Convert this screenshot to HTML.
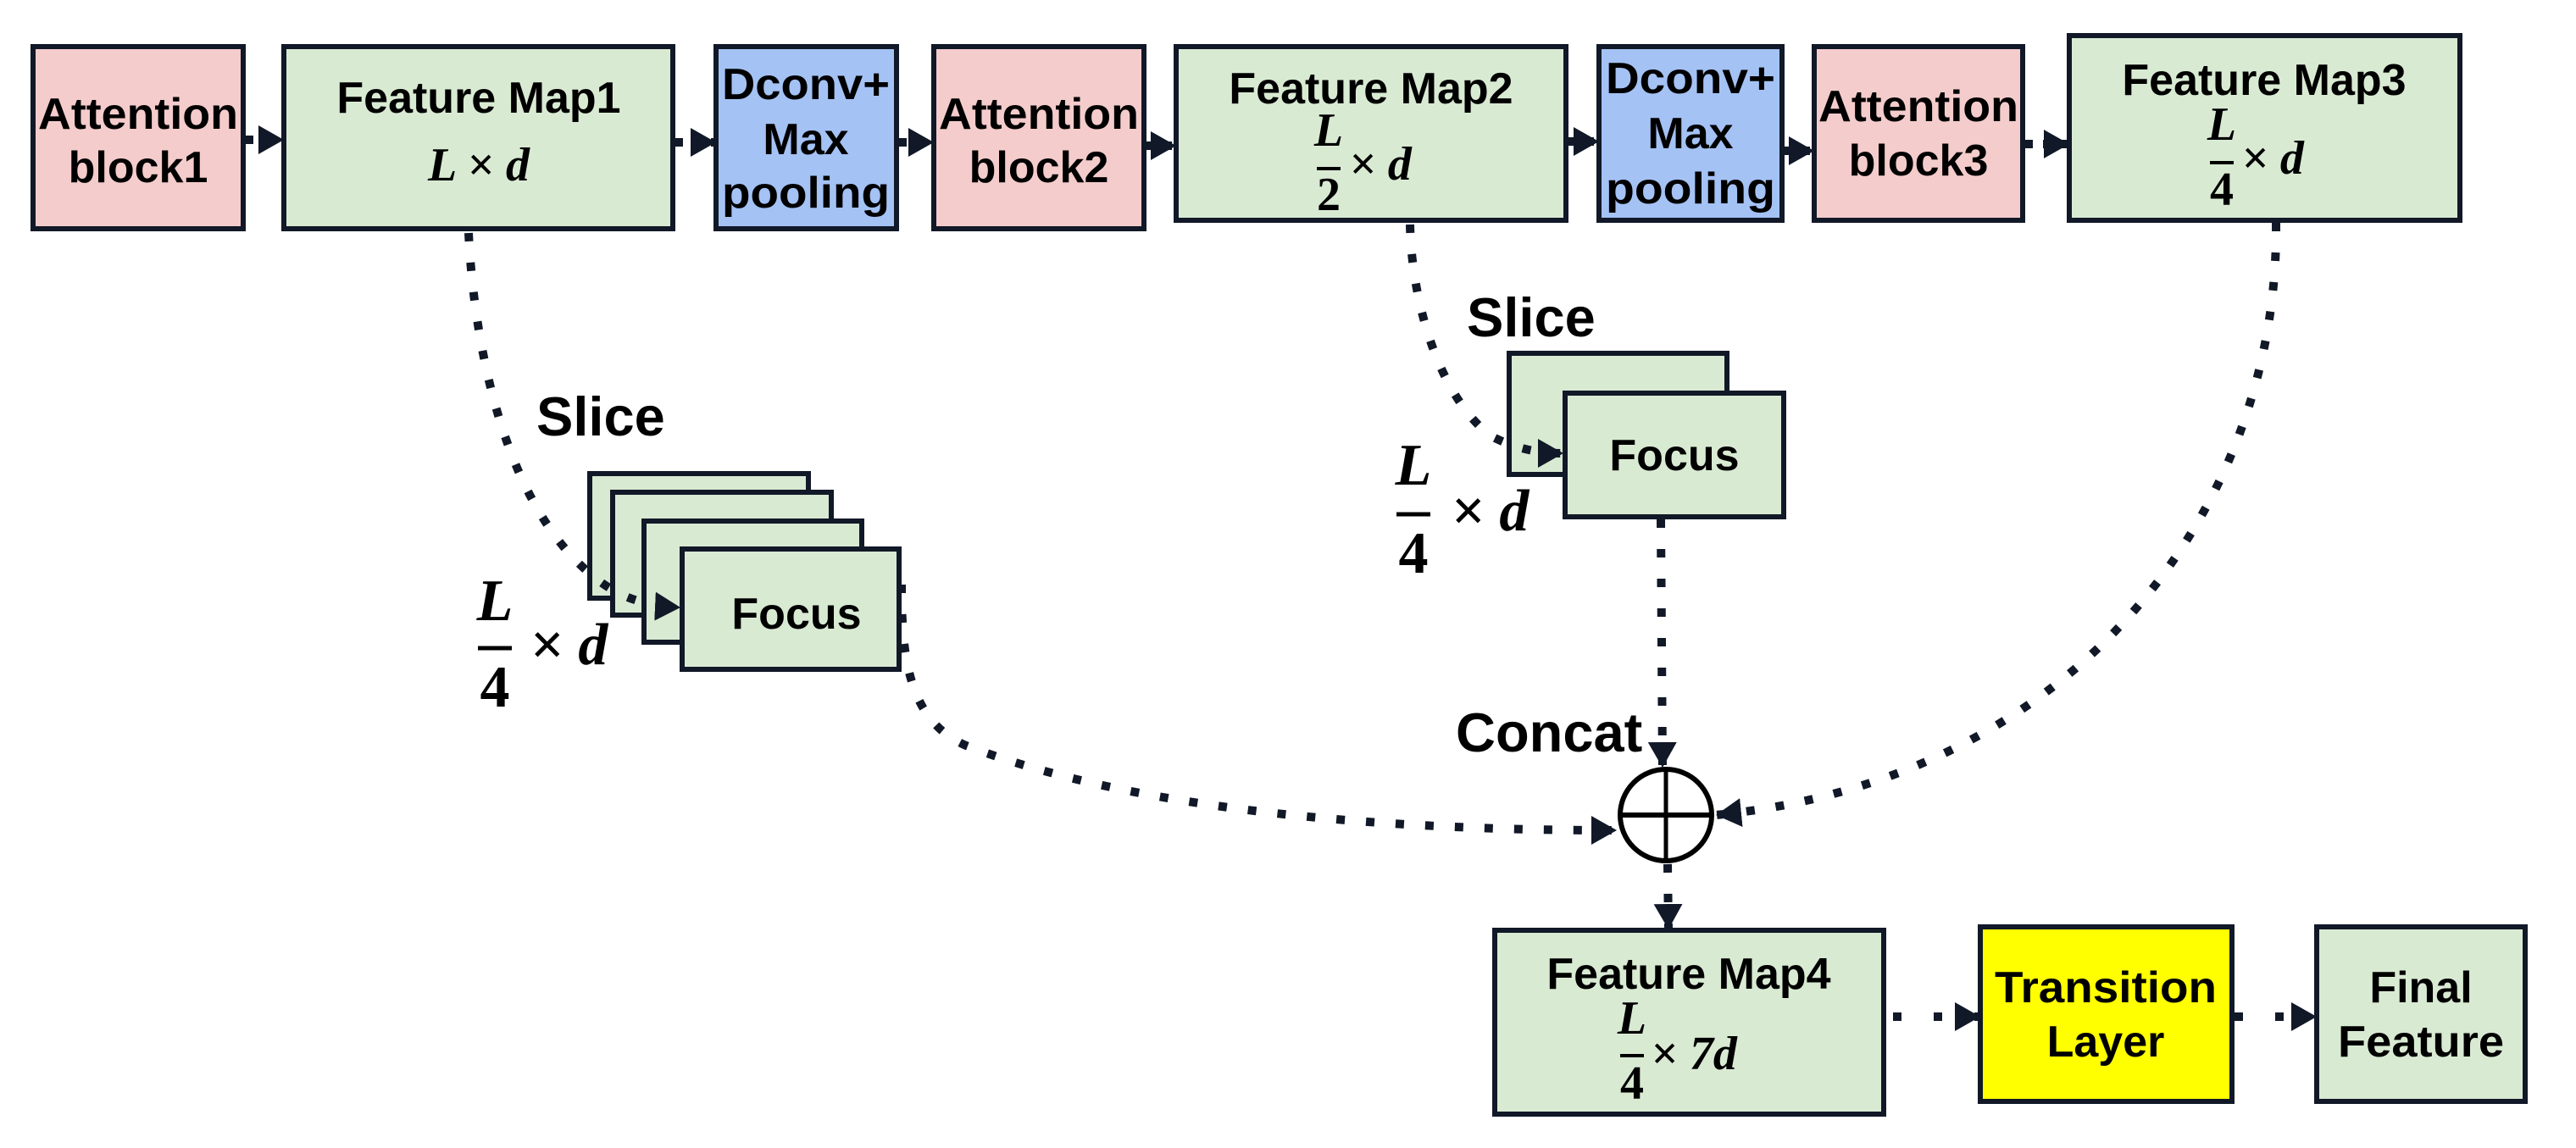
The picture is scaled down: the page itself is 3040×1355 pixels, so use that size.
<!DOCTYPE html>
<html><head><meta charset="utf-8"><style>
html,body{margin:0;padding:0;background:#fff;}
svg{display:block;}
.b{font-family:"Liberation Sans",sans-serif;font-weight:bold;font-size:52px;fill:#000;text-anchor:middle;}
.m{font-family:"Liberation Serif",serif;font-style:italic;font-weight:bold;font-size:56px;fill:#000;}
.mb{font-family:"Liberation Serif",serif;font-style:italic;font-weight:bold;font-size:70px;fill:#000;}
.lab{font-family:"Liberation Sans",sans-serif;font-weight:bold;font-size:65px;fill:#000;}
.box{stroke:#111827;stroke-width:6;}
.dl{fill:none;stroke:#111827;stroke-width:10;stroke-dasharray:10 25;}
</style></head><body>
<svg width="3040" height="1355" viewBox="0 0 3040 1355" xmlns="http://www.w3.org/2000/svg">
<defs>
<marker id="a" markerUnits="userSpaceOnUse" markerWidth="34" markerHeight="34" refX="30" refY="17" orient="auto">
<path d="M0,0 L30,17 L0,34 z" fill="#111827"/>
</marker>
</defs>

<rect class="box" x="39" y="55" width="248" height="215" fill="#f4cccc"/>
<rect class="box" x="335" y="55" width="459" height="215" fill="#d9ead3"/>
<rect class="box" x="845" y="55" width="213" height="215" fill="#a4c2f4"/>
<rect class="box" x="1102" y="55" width="248" height="215" fill="#f4cccc"/>
<rect class="box" x="1388" y="55" width="460" height="205" fill="#d9ead3"/>
<rect class="box" x="1887" y="55" width="216" height="205" fill="#a4c2f4"/>
<rect class="box" x="2141" y="55" width="246" height="205" fill="#f4cccc"/>
<rect class="box" x="2442" y="42" width="461" height="218" fill="#d9ead3"/>

<text class="b" x="163" y="152" textLength="236" lengthAdjust="spacingAndGlyphs">Attention</text>
<text class="b" x="163" y="215">block1</text>
<text class="b" x="565" y="133">Feature Map1</text>
<text class="m" x="565" y="213" text-anchor="middle">L × d</text>
<text class="b" x="951" y="117" textLength="198" lengthAdjust="spacingAndGlyphs">Dconv+</text>
<text class="b" x="951" y="182">Max</text>
<text class="b" x="951" y="245" textLength="198" lengthAdjust="spacingAndGlyphs">pooling</text>
<text class="b" x="1226" y="152" textLength="236" lengthAdjust="spacingAndGlyphs">Attention</text>
<text class="b" x="1226" y="215">block2</text>

<text class="b" x="1618" y="122">Feature Map2</text>
<text class="m" x="1568" y="172" text-anchor="middle">L</text>
<line x1="1554" y1="199" x2="1582" y2="199" stroke="#000" stroke-width="4"/>
<text class="m" x="1568" y="248" text-anchor="middle" style="font-style:normal">2</text>
<text class="m" x="1592" y="212">× d</text>

<text class="b" x="1995" y="110" textLength="200" lengthAdjust="spacingAndGlyphs">Dconv+</text>
<text class="b" x="1995" y="175">Max</text>
<text class="b" x="1995" y="240" textLength="200" lengthAdjust="spacingAndGlyphs">pooling</text>
<text class="b" x="2264" y="143" textLength="236" lengthAdjust="spacingAndGlyphs">Attention</text>
<text class="b" x="2264" y="207">block3</text>

<text class="b" x="2672" y="112">Feature Map3</text>
<text class="m" x="2622" y="165" text-anchor="middle">L</text>
<line x1="2608" y1="192" x2="2636" y2="192" stroke="#000" stroke-width="4"/>
<text class="m" x="2622" y="242" text-anchor="middle" style="font-style:normal">4</text>
<text class="m" x="2645" y="205">× d</text>

<line class="dl" x1="290" y1="165" x2="335" y2="165" marker-end="url(#a)" style="stroke-dasharray:9 12"/>
<line class="dl" x1="797" y1="168" x2="845" y2="168" marker-end="url(#a)" style="stroke-dasharray:9 12"/>
<line class="dl" x1="1061" y1="168" x2="1102" y2="168" marker-end="url(#a)" style="stroke-dasharray:9 12"/>
<line class="dl" x1="1353" y1="172" x2="1388" y2="172" marker-end="url(#a)" style="stroke-dasharray:9 12"/>
<line class="dl" x1="1851" y1="167" x2="1887" y2="167" marker-end="url(#a)" style="stroke-dasharray:9 12"/>
<line class="dl" x1="2106" y1="178" x2="2141" y2="178" marker-end="url(#a)" style="stroke-dasharray:9 12"/>
<line class="dl" x1="2390" y1="170" x2="2442" y2="170" marker-end="url(#a)" style="stroke-dasharray:9 12"/>

<rect class="box" x="696" y="559" width="258" height="147" fill="#d9ead3"/>
<rect class="box" x="723" y="581" width="258" height="145" fill="#d9ead3"/>
<rect class="box" x="760" y="615" width="257" height="143" fill="#d9ead3"/>
<rect class="box" x="805" y="648" width="256" height="142" fill="#d9ead3"/>
<text class="b" x="940" y="742">Focus</text>

<rect class="box" x="1781" y="417" width="257" height="143" fill="#d9ead3"/>
<rect class="box" x="1847" y="464" width="258" height="146" fill="#d9ead3"/>
<text class="b" x="1976" y="555">Focus</text>

<text class="lab" x="633" y="514">Slice</text>
<text class="lab" x="1731" y="397">Slice</text>
<text class="lab" x="1718" y="887">Concat</text>

<text class="mb" x="584" y="732" text-anchor="middle">L</text>
<line x1="564" y1="765" x2="604" y2="765" stroke="#000" stroke-width="5"/>
<text class="mb" x="584" y="834" text-anchor="middle" style="font-style:normal">4</text>
<text class="mb" x="625" y="784">× d</text>

<text class="mb" x="1668" y="572" text-anchor="middle">L</text>
<line x1="1648" y1="607" x2="1688" y2="607" stroke="#000" stroke-width="5"/>
<text class="mb" x="1668" y="676" text-anchor="middle" style="font-style:normal">4</text>
<text class="mb" x="1712" y="626">× d</text>

<circle cx="1966" cy="962" r="54" fill="#fff" stroke="#000" stroke-width="6"/>
<line x1="1912" y1="962" x2="2020" y2="962" stroke="#000" stroke-width="6"/>
<line x1="1966" y1="908" x2="1966" y2="1016" stroke="#000" stroke-width="5"/>

<path class="dl" d="M553,275 C560,420 600,600 700,680 C730,705 760,715 803,717" marker-end="url(#a)"/>
<path class="dl" d="M1064,690 C1064,770 1070,850 1140,880 C1350,960 1650,980 1908,980" marker-end="url(#a)"/>
<path class="dl" d="M1664,265 C1666,360 1700,470 1760,515 C1790,530 1815,535 1845,535" marker-end="url(#a)"/>
<path class="dl" d="M1960,613 L1962,906" marker-end="url(#a)"/>
<path class="dl" d="M2686,263 C2690,600 2450,920 2025,962" marker-end="url(#a)"/>
<path class="dl" d="M1968,1020 L1969,1097" marker-end="url(#a)"/>

<rect class="box" x="1764" y="1098" width="459" height="217" fill="#d9ead3"/>
<rect class="box" x="2337" y="1094" width="297" height="206" fill="#ffff00"/>
<rect class="box" x="2734" y="1094" width="246" height="206" fill="#d9ead3"/>
<text class="b" x="1993" y="1167">Feature Map4</text>
<text class="m" x="1926" y="1220" text-anchor="middle">L</text>
<line x1="1912" y1="1246" x2="1940" y2="1246" stroke="#000" stroke-width="4"/>
<text class="m" x="1926" y="1297" text-anchor="middle" style="font-style:normal">4</text>
<text class="m" x="1948" y="1262">× 7d</text>
<text class="b" x="2485" y="1183" textLength="262" lengthAdjust="spacingAndGlyphs">Transition</text>
<text class="b" x="2485" y="1247">Layer</text>
<text class="b" x="2857" y="1183">Final</text>
<text class="b" x="2857" y="1247" textLength="196" lengthAdjust="spacingAndGlyphs">Feature</text>

<line class="dl" x1="2234" y1="1200" x2="2337" y2="1200" marker-end="url(#a)" style="stroke-dasharray:10 38"/>
<line class="dl" x1="2637" y1="1200" x2="2734" y2="1200" marker-end="url(#a)" style="stroke-dasharray:10 38"/>
</svg>
</body></html>
